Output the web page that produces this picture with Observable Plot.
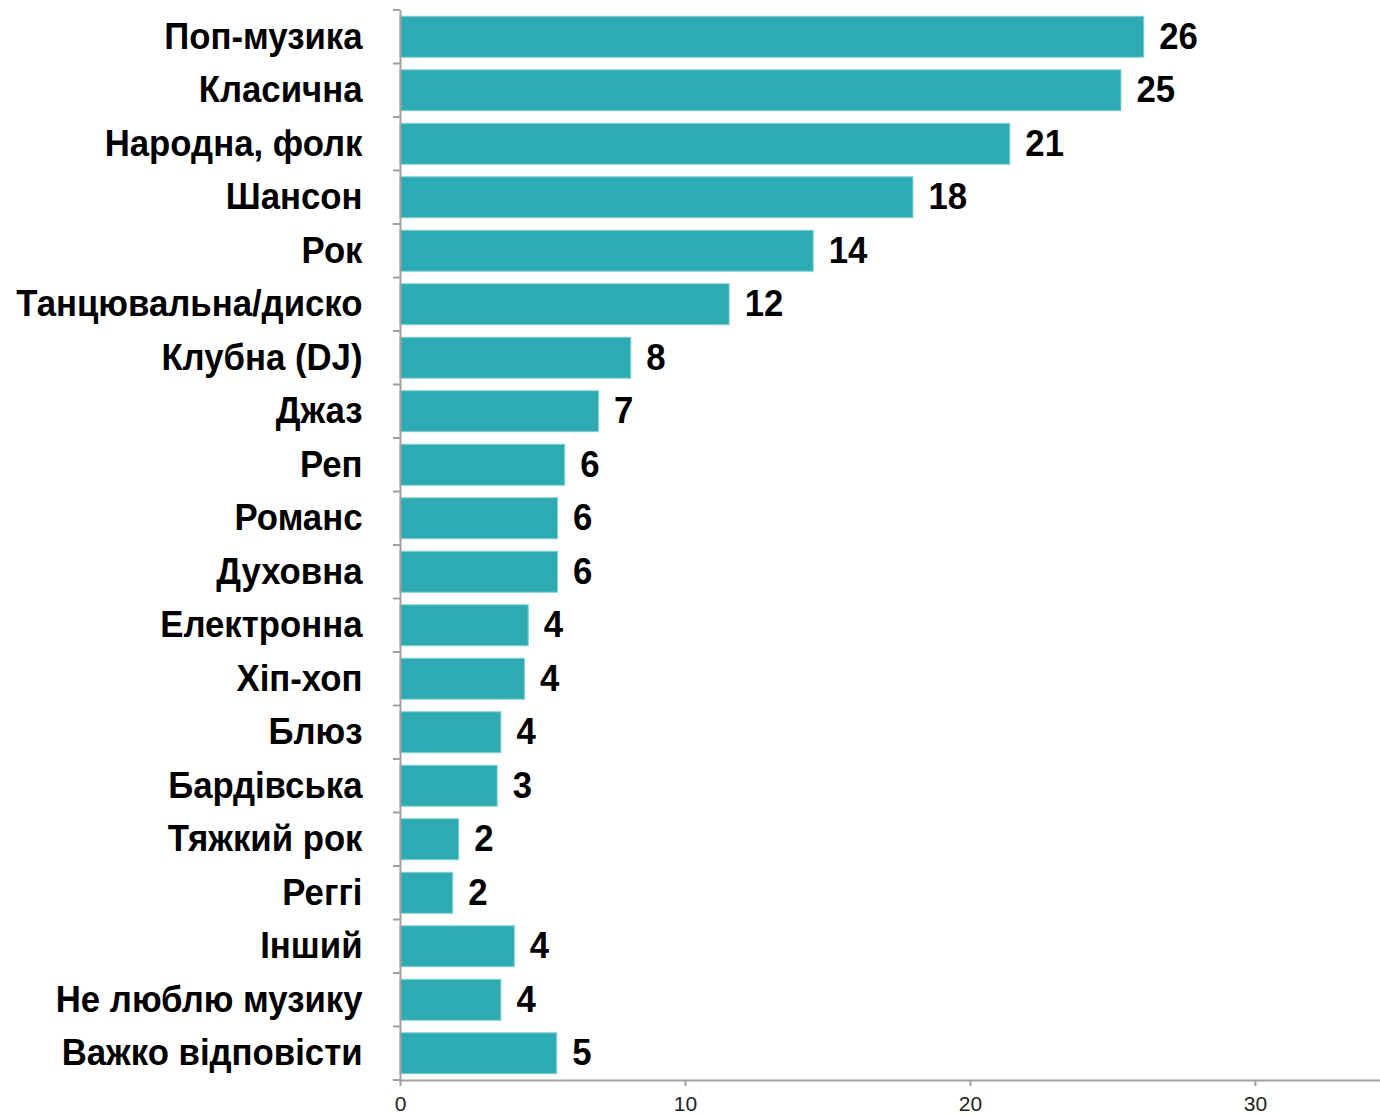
<!DOCTYPE html>
<html>
<head>
<meta charset="utf-8">
<script src="https://cdn.jsdelivr.net/npm/d3@7"></script>
<script src="https://cdn.jsdelivr.net/npm/@observablehq/plot@0.6"></script>
<style>
  html, body { margin: 0; padding: 0; background: #fff; }
  #chart svg { display: block; }
  #chart g[aria-label="x-axis tick label"] { font-size: 21px !important; }
</style>
</head>
<body>
<div id="chart"></div>
<script>
const categories = [
  "Поп-музика", "Класична", "Народна, фолк", "Шансон", "Рок",
  "Танцювальна/диско", "Клубна (DJ)", "Джаз", "Реп", "Романс",
  "Духовна", "Електронна", "Хіп-хоп", "Блюз", "Бардівська",
  "Тяжкий рок", "Реггі", "Інший", "Не люблю музику", "Важко відповісти"
];
const values = [
  26.1, 25.3, 21.4, 18.0, 14.5,
  11.55, 8.1, 6.97, 5.78, 5.53,
  5.53, 4.5, 4.37, 3.54, 3.41,
  2.06, 1.85, 4.01, 3.54, 5.5
];
const valueLabels = [
  "26", "25", "21", "18", "14",
  "12", "8", "7", "6", "6",
  "6", "4", "4", "4", "3",
  "2", "2", "4", "4", "5"
];
const xTicks = [0, 10, 20, 30];

const data = categories.map((c, i) => ({cat: c, value: values[i], label: valueLabels[i]}));

const paddingInner = 0.234;
const labelFont = "'Liberation Sans', Arial, sans-serif";
const axisGray = "#a0a0a0";

function boundaryTicks(index, scales, values, dimensions) {
  const y = scales.y;
  const step = y(categories[1]) - y(categories[0]);
  const gap = step * paddingInner;
  const bounds = categories.map(c => y(c) - gap / 2);
  bounds.push(y(categories[categories.length - 1]) + step - gap / 2);
  const g = d3.create("svg:g");
  g.selectAll("line").data(bounds).join("line")
    .attr("x1", dimensions.marginLeft - 7)
    .attr("x2", dimensions.marginLeft)
    .attr("y1", d => d).attr("y2", d => d)
    .attr("stroke", axisGray).attr("stroke-width", 2);
  return g.node();
}

const chart = Plot.plot({
  width: 1380,
  height: 1114,
  marginLeft: 400,
  marginRight: 0,
  marginTop: 10,
  marginBottom: 34,
  style: {background: "#fff", color: "#000"},
  x: {domain: [0, 34.39], label: null},
  y: {domain: categories, paddingInner: paddingInner, paddingOuter: paddingInner / 2, round: false, label: null},
  marks: [
    Plot.barX(data, {x: "value", y: "cat", fill: "#2eabb2", stroke: "#86d0d3", strokeWidth: 1}),
    Plot.text(data, {
      x: "value", y: "cat", text: "label", textAnchor: "start", dx: 15,
      fontSize: 36, fontWeight: "bold", fontFamily: labelFont, fill: "#000"
    }),
    Plot.axisY({
      tickSize: 0, tickPadding: 38, fontSize: 36, fontWeight: "bold",
      fontFamily: labelFont, fill: "#000", label: null
    }),
    Plot.axisX({
      ticks: xTicks, tickSize: 6, tickPadding: 10, stroke: axisGray, strokeWidth: 2,
      fontSize: 21, fontFamily: "'Liberation Sans', Arial, sans-serif", fill: "#222",
      tickFormat: d => String(d), label: null
    }),
    Plot.frame({anchor: "bottom", stroke: axisGray, strokeWidth: 2}),
    Plot.ruleX([0], {stroke: axisGray, strokeWidth: 2}),
    boundaryTicks
  ]
});

document.getElementById("chart").append(chart);

// Slightly compress the bold labels horizontally to match the reference's narrow look
d3.select(chart)
  .selectAll('g[aria-label="y-axis tick label"] text, g[aria-label="text"] text')
  .each(function () {
    const len = this.getComputedTextLength();
    if (len > 0) {
      this.setAttribute("textLength", (len * 0.965).toFixed(2));
      this.setAttribute("lengthAdjust", "spacingAndGlyphs");
    }
  });
</script>
</body>
</html>
